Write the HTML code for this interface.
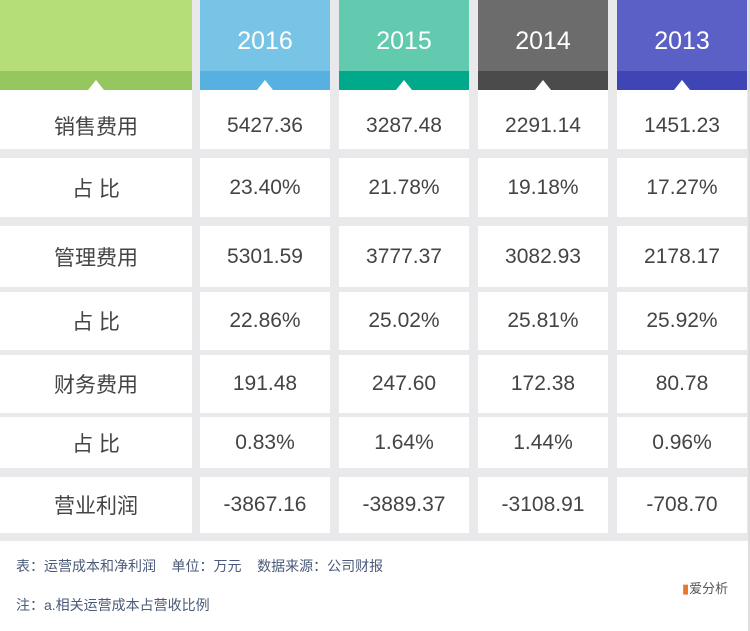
<!DOCTYPE html>
<html><head><meta charset="utf-8"><style>
body{margin:0;width:750px;height:631px;background:#fff;position:relative;overflow:hidden;font-family:"Liberation Sans","Noto Sans CJK SC",sans-serif}
.a{position:absolute;box-sizing:border-box}
.c{display:flex;align-items:center;justify-content:center;background:#fff;color:#444;font-size:21px}
.h{display:flex;align-items:flex-start;justify-content:center;color:#fff;font-size:25px;padding-top:27px}
.band{position:absolute;left:0;right:0;bottom:0;height:19px}
.tri{position:absolute;bottom:0;left:50%;margin-left:-8px;width:0;height:0;border-left:8px solid transparent;border-right:8px solid transparent;border-bottom:10px solid #fff}
.f{font-size:14px;color:#4a5a78}
</style></head><body>
<div class="a" style="left:0;top:0;width:750px;height:541px;background:#e9e9eb"></div>
<div id="t"></div>
<div class="a f" style="left:16px;top:556px">表：运营成本和净利润&nbsp;&nbsp;&nbsp;&nbsp;单位：万元&nbsp;&nbsp;&nbsp;&nbsp;数据来源：公司财报</div>
<div class="a f" style="left:16px;top:595px">注：a.相关运营成本占营收比例</div>
<div class="a" style="left:682px;top:578px;font-size:13px;color:#555"><span style="color:#e8772e">▮</span>爱分析</div>
<div class="a" style="left:748px;top:0;width:2px;height:631px;background:#ddd"></div>
<script>
const years=["","2016","2015","2014","2013"];
const labels=["销售费用","占 比","管理费用","占 比","财务费用","占 比","营业利润"];
const y2016=["5427.36","23.40%","5301.59","22.86%","191.48","0.83%","-3867.16"];
const y2015=["3287.48","21.78%","3777.37","25.02%","247.60","1.64%","-3889.37"];
const y2014=["2291.14","19.18%","3082.93","25.81%","172.38","1.44%","-3108.91"];
const y2013=["1451.23","17.27%","2178.17","25.92%","80.78","0.96%","-708.70"];
const cols=[[0,192],[200,330],[339,469],[478,608],[617,747]];
const hc=[["#b6de78","#96c65e"],["#78c4e6","#57b1e0"],["#62caaf","#00a98a"],["#6c6c6c","#4b4b4b"],["#5b60c6","#3f45b4"]];
const rt=[90,158,226,292,355,417,477],rb=[149,217,287,350,413,468,533];
const t=document.getElementById('t');
const data=[labels,y2016,y2015,y2014,y2013];
cols.forEach((c,i)=>{
 const h=document.createElement('div');h.className='a h';
 
 
 h.style.cssText=`left:${c[0]}px;top:0;width:${c[1]-c[0]}px;height:90px;background:${hc[i][0]}`;
 h.innerHTML=`${years[i]}<div class="band" style="background:${hc[i][1]}"><div class="tri"></div></div>`;
 t.appendChild(h);
 data[i].forEach((v,r)=>{
  const d=document.createElement('div');d.className='a c';
  
  
  d.style.cssText=`left:${c[0]}px;top:${rt[r]}px;width:${c[1]-c[0]}px;height:${rb[r]-rt[r]}px`+(r===0?';padding-top:12px':'');
  d.textContent=v;t.appendChild(d);
 });
});
</script>
</body></html>
